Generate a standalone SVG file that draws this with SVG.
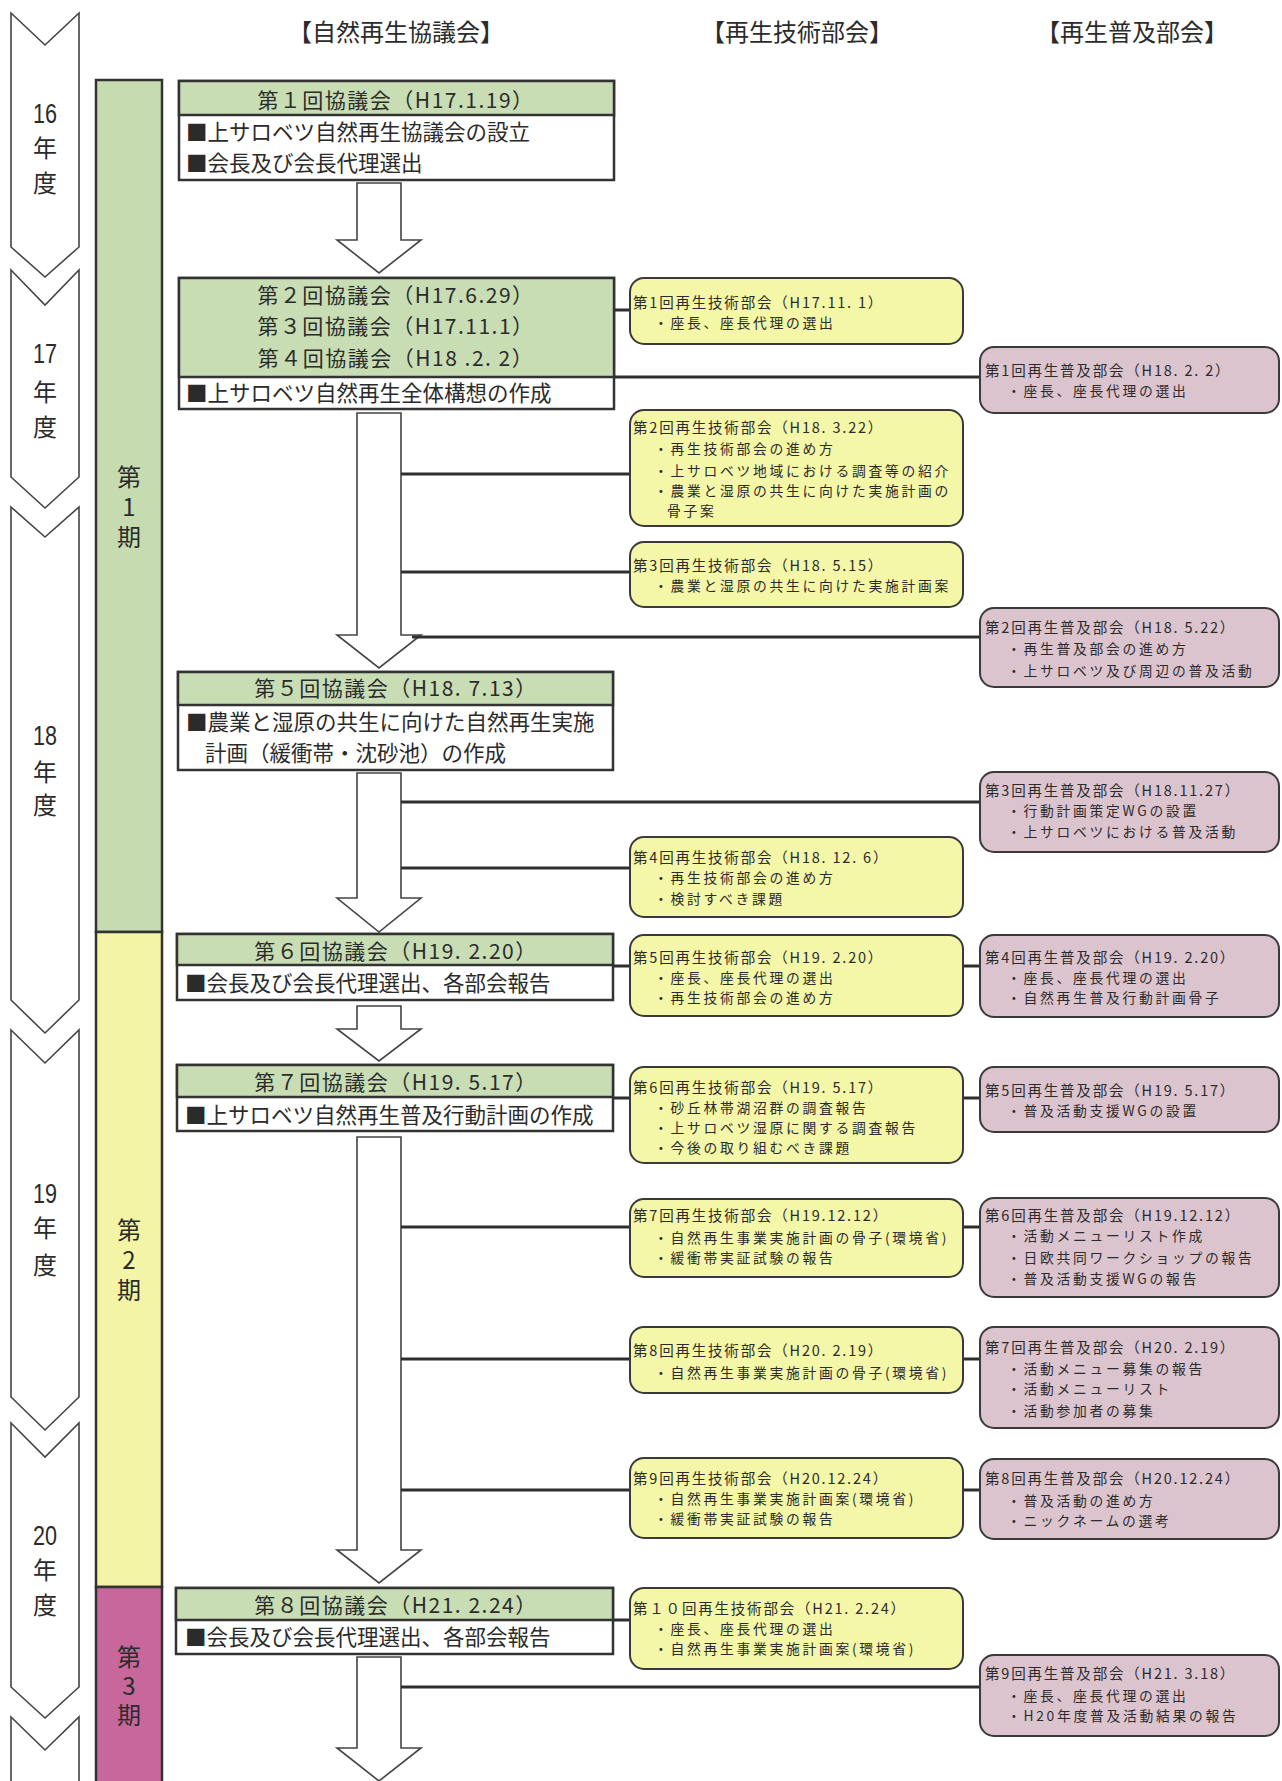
<svg xmlns="http://www.w3.org/2000/svg" width="1282" height="1781" viewBox="0 0 1282 1781">
<style>
.t{font-family:"Noto Sans CJK JP","Noto Sans CJK SC",sans-serif;fill:#2b2b2b}
.hd{font-size:24px;text-anchor:middle}
.ch{font-size:21px;text-anchor:middle;letter-spacing:1.5px}
.cb{font-size:21.5px}
.bt{font-size:14.5px;letter-spacing:1.8px}
.bi{font-size:13.8px;letter-spacing:2.7px}
.vt{font-size:24px;writing-mode:vertical-rl;text-orientation:upright}
.num{font-family:"Liberation Sans",Arial,sans-serif;font-size:27px;fill:#2b2b2b;text-anchor:middle}
.cbox{fill:#fff;stroke:#333;stroke-width:2.5}
.chead{fill:#c8ddb4;stroke:#333;stroke-width:2.5}
.tech{fill:#f4f6a8;stroke:#3a3a3a;stroke-width:2}
.spr{fill:#dcc4cf;stroke:#3a3a3a;stroke-width:2}
.conn{stroke:#2e2e2e;stroke-width:3;fill:none}
.arr{fill:#fff;stroke:#444;stroke-width:1.6}
.yarr{fill:#fff;stroke:#444;stroke-width:1.6}
</style>
<rect width="1282" height="1781" fill="#fff"/>

<g id="column-headers">
<text class="t hd" x="396" y="41">【自然再生協議会】</text>
<text class="t hd" x="797" y="41">【再生技術部会】</text>
<text class="t hd" x="1132" y="41">【再生普及部会】</text>
</g>

<g id="year-arrows">
<path class="yarr" d="M11,13 L45,45 L79,13 L79,247 L45,277 L11,247 Z"/>
<path class="yarr" d="M11,270 L45,305 L79,270 L79,477 L45,508 L11,477 Z"/>
<path class="yarr" d="M11,507 L45,537 L79,507 L79,1000 L45,1033 L11,1000 Z"/>
<path class="yarr" d="M11,1030 L45,1063 L79,1030 L79,1397 L45,1430 L11,1397 Z"/>
<path class="yarr" d="M11,1423 L45,1457 L79,1423 L79,1687 L45,1718 L11,1687 Z"/>
<path class="yarr" d="M11,1717 L45,1750 L79,1717 L79,1800 L11,1800 Z"/>
<text class="num" x="45" y="123" textLength="24" lengthAdjust="spacingAndGlyphs">16</text>
<text class="t vt" x="45" y="136" letter-spacing="11">年度</text>
<text class="num" x="45" y="363" textLength="24" lengthAdjust="spacingAndGlyphs">17</text>
<text class="t vt" x="45" y="380" letter-spacing="11">年度</text>
<text class="num" x="45" y="745" textLength="24" lengthAdjust="spacingAndGlyphs">18</text>
<text class="t vt" x="45" y="760" letter-spacing="9">年度</text>
<text class="num" x="45" y="1203" textLength="24" lengthAdjust="spacingAndGlyphs">19</text>
<text class="t vt" x="45" y="1216" letter-spacing="13">年度</text>
<text class="num" x="45" y="1545" textLength="24" lengthAdjust="spacingAndGlyphs">20</text>
<text class="t vt" x="45" y="1558" letter-spacing="11">年度</text>
</g>

<g id="periods">
<rect x="96" y="80" width="66" height="852" fill="#c6dcb0" stroke="#333" stroke-width="2.5"/>
<rect x="96" y="932" width="66" height="655" fill="#f3f4a6" stroke="#333" stroke-width="2.5"/>
<rect x="96" y="1587" width="66" height="210" fill="#c8679c" stroke="#333" stroke-width="2.5"/>
<text class="t vt" x="129" y="465" letter-spacing="6">第1期</text>
<text class="t vt" x="129" y="1218" letter-spacing="6">第2期</text>
<text class="t vt" x="129" y="1645" letter-spacing="5">第3期</text>
</g>

<g id="flow-arrows">
<path class="arr" d="M357,183 L401,183 L401,240 L421,240 L379,273 L337,240 L357,240 Z"/>
<path class="arr" d="M357,413 L401,413 L401,635 L421,635 L379,668 L337,635 L357,635 Z"/>
<path class="arr" d="M357,773 L401,773 L401,898 L421,898 L379,932 L337,898 L357,898 Z"/>
<path class="arr" d="M357,1006 L401,1006 L401,1029 L421,1029 L379,1061 L337,1029 L357,1029 Z"/>
<path class="arr" d="M357,1137 L401,1137 L401,1550 L421,1550 L379,1583 L337,1550 L357,1550 Z"/>
<path class="arr" d="M357,1657 L401,1657 L401,1748 L421,1748 L379,1781 L337,1748 L357,1748 Z"/>
</g>

<g id="connectors">
<line class="conn" x1="614" y1="310" x2="631" y2="310"/>
<line class="conn" x1="614" y1="377" x2="981" y2="377"/>
<line class="conn" x1="401" y1="474" x2="631" y2="474"/>
<line class="conn" x1="401" y1="572" x2="631" y2="572"/>
<line class="conn" x1="412" y1="637" x2="981" y2="637"/>
<line class="conn" x1="401" y1="802" x2="981" y2="802"/>
<line class="conn" x1="401" y1="868" x2="631" y2="868"/>
<line class="conn" x1="613" y1="966" x2="631" y2="966"/>
<line class="conn" x1="962" y1="966" x2="981" y2="966"/>
<line class="conn" x1="613" y1="1098" x2="631" y2="1098"/>
<line class="conn" x1="962" y1="1098" x2="981" y2="1098"/>
<line class="conn" x1="401" y1="1227" x2="631" y2="1227"/>
<line class="conn" x1="962" y1="1227" x2="981" y2="1227"/>
<line class="conn" x1="401" y1="1359" x2="631" y2="1359"/>
<line class="conn" x1="962" y1="1359" x2="981" y2="1359"/>
<line class="conn" x1="401" y1="1490" x2="631" y2="1490"/>
<line class="conn" x1="962" y1="1490" x2="981" y2="1490"/>
<line class="conn" x1="613" y1="1620" x2="631" y2="1620"/>
<line class="conn" x1="401" y1="1687" x2="981" y2="1687"/>
</g>

<g id="council-1">
<rect class="cbox" x="179" y="81" width="435" height="99"/>
<rect class="chead" x="179" y="81" width="435" height="34"/>
<text class="t ch" x="396" y="107.5">第１回協議会（H17.1.19）</text>
<text class="t cb"><tspan x="186" y="139.5">■上サロベツ自然再生協議会の設立</tspan><tspan x="186" y="171">■会長及び会長代理選出</tspan></text>
</g>
<g id="council-2">
<rect class="cbox" x="179" y="278" width="435" height="131"/>
<rect class="chead" x="179" y="278" width="435" height="99"/>
<text class="t ch"><tspan x="396" y="302.5">第２回協議会（H17.6.29）</tspan><tspan x="396" y="334">第３回協議会（H17.11.1）</tspan><tspan x="396" y="365.5">第４回協議会（H18 .2. 2）</tspan></text>
<text class="t cb" x="186" y="401">■上サロベツ自然再生全体構想の作成</text>
</g>
<g id="council-5">
<rect class="cbox" x="178" y="672" width="435" height="98"/>
<rect class="chead" x="178" y="672" width="435" height="33"/>
<text class="t ch" x="396" y="695.5">第５回協議会（H18. 7.13）</text>
<text class="t cb"><tspan x="186" y="729.5">■農業と湿原の共生に向けた自然再生実施</tspan><tspan x="205" y="761">計画（緩衝帯・沈砂池）の作成</tspan></text>
</g>
<g id="council-6">
<rect class="cbox" x="177" y="934" width="436" height="66"/>
<rect class="chead" x="177" y="934" width="436" height="31"/>
<text class="t ch" x="396" y="958.5">第６回協議会（H19. 2.20）</text>
<text class="t cb" x="185" y="991">■会長及び会長代理選出、各部会報告</text>
</g>
<g id="council-7">
<rect class="cbox" x="177" y="1065" width="436" height="66"/>
<rect class="chead" x="177" y="1065" width="436" height="32"/>
<text class="t ch" x="396" y="1089.5">第７回協議会（H19. 5.17）</text>
<text class="t cb" x="185" y="1123">■上サロベツ自然再生普及行動計画の作成</text>
</g>
<g id="council-8">
<rect class="cbox" x="176" y="1588" width="437" height="66"/>
<rect class="chead" x="176" y="1588" width="437" height="32"/>
<text class="t ch" x="396" y="1612.5">第８回協議会（H21. 2.24）</text>
<text class="t cb" x="185" y="1645">■会長及び会長代理選出、各部会報告</text>
</g>

<g id="tech-1">
<rect class="tech" x="630" y="278" width="333" height="66" rx="14"/>
<text class="t bi"><tspan class="bt" x="633" y="307.5">第1回再生技術部会（H17.11. 1）</tspan><tspan x="654" y="328">・座長、座長代理の選出</tspan></text>
</g>
<g id="tech-2">
<rect class="tech" x="630" y="410" width="333" height="116" rx="14"/>
<text class="t bi"><tspan class="bt" x="633" y="433">第2回再生技術部会（H18. 3.22）</tspan><tspan x="654" y="454">・再生技術部会の進め方</tspan><tspan x="654" y="476">・上サロベツ地域における調査等の紹介</tspan><tspan x="654" y="496">・農業と湿原の共生に向けた実施計画の</tspan><tspan x="667" y="516">骨子案</tspan></text>
</g>
<g id="tech-3">
<rect class="tech" x="630" y="542" width="333" height="65" rx="14"/>
<text class="t bi"><tspan class="bt" x="633" y="570.5">第3回再生技術部会（H18. 5.15）</tspan><tspan x="654" y="591">・農業と湿原の共生に向けた実施計画案</tspan></text>
</g>
<g id="tech-4">
<rect class="tech" x="630" y="837" width="333" height="80" rx="14"/>
<text class="t bi"><tspan class="bt" x="633" y="862.5">第4回再生技術部会（H18. 12. 6）</tspan><tspan x="654" y="883">・再生技術部会の進め方</tspan><tspan x="654" y="904">・検討すべき課題</tspan></text>
</g>
<g id="tech-5">
<rect class="tech" x="630" y="935" width="333" height="81" rx="14"/>
<text class="t bi"><tspan class="bt" x="633" y="962.5">第5回再生技術部会（H19. 2.20）</tspan><tspan x="654" y="983">・座長、座長代理の選出</tspan><tspan x="654" y="1003">・再生技術部会の進め方</tspan></text>
</g>
<g id="tech-6">
<rect class="tech" x="630" y="1067" width="333" height="96" rx="14"/>
<text class="t bi"><tspan class="bt" x="633" y="1092.5">第6回再生技術部会（H19. 5.17）</tspan><tspan x="654" y="1113">・砂丘林帯湖沼群の調査報告</tspan><tspan x="654" y="1133">・上サロベツ湿原に関する調査報告</tspan><tspan x="654" y="1153">・今後の取り組むべき課題</tspan></text>
</g>
<g id="tech-7">
<rect class="tech" x="630" y="1199" width="333" height="78" rx="14"/>
<text class="t bi"><tspan class="bt" x="633" y="1221">第7回再生技術部会（H19.12.12）</tspan><tspan x="654" y="1243">・自然再生事業実施計画の骨子(環境省)</tspan><tspan x="654" y="1263">・緩衝帯実証試験の報告</tspan></text>
</g>
<g id="tech-8">
<rect class="tech" x="630" y="1327" width="333" height="66" rx="14"/>
<text class="t bi"><tspan class="bt" x="633" y="1356">第8回再生技術部会（H20. 2.19）</tspan><tspan x="654" y="1378">・自然再生事業実施計画の骨子(環境省)</tspan></text>
</g>
<g id="tech-9">
<rect class="tech" x="630" y="1458" width="333" height="80" rx="14"/>
<text class="t bi"><tspan class="bt" x="633" y="1483.5">第9回再生技術部会（H20.12.24）</tspan><tspan x="654" y="1504">・自然再生事業実施計画案(環境省)</tspan><tspan x="654" y="1524">・緩衝帯実証試験の報告</tspan></text>
</g>
<g id="tech-10">
<rect class="tech" x="630" y="1588" width="333" height="81" rx="14"/>
<text class="t bi"><tspan class="bt" x="633" y="1613.5">第１０回再生技術部会（H21. 2.24）</tspan><tspan x="654" y="1634">・座長、座長代理の選出</tspan><tspan x="654" y="1654">・自然再生事業実施計画案(環境省)</tspan></text>
</g>

<g id="spread-1">
<rect class="spr" x="980" y="347" width="299" height="66" rx="14"/>
<text class="t bi"><tspan class="bt" x="985" y="375.5">第1回再生普及部会（H18. 2. 2）</tspan><tspan x="1007" y="396">・座長、座長代理の選出</tspan></text>
</g>
<g id="spread-2">
<rect class="spr" x="980" y="608" width="299" height="79" rx="14"/>
<text class="t bi"><tspan class="bt" x="985" y="633">第2回再生普及部会（H18. 5.22）</tspan><tspan x="1007" y="654">・再生普及部会の進め方</tspan><tspan x="1007" y="676">・上サロベツ及び周辺の普及活動</tspan></text>
</g>
<g id="spread-3">
<rect class="spr" x="980" y="772" width="299" height="80" rx="14"/>
<text class="t bi"><tspan class="bt" x="985" y="795.5">第3回再生普及部会（H18.11.27）</tspan><tspan x="1007" y="816">・行動計画策定WGの設置</tspan><tspan x="1007" y="837">・上サロベツにおける普及活動</tspan></text>
</g>
<g id="spread-4">
<rect class="spr" x="980" y="935" width="299" height="82" rx="14"/>
<text class="t bi"><tspan class="bt" x="985" y="962.5">第4回再生普及部会（H19. 2.20）</tspan><tspan x="1007" y="983">・座長、座長代理の選出</tspan><tspan x="1007" y="1003">・自然再生普及行動計画骨子</tspan></text>
</g>
<g id="spread-5">
<rect class="spr" x="980" y="1067" width="299" height="65" rx="14"/>
<text class="t bi"><tspan class="bt" x="985" y="1095.5">第5回再生普及部会（H19. 5.17）</tspan><tspan x="1007" y="1116">・普及活動支援WGの設置</tspan></text>
</g>
<g id="spread-6">
<rect class="spr" x="980" y="1198" width="299" height="99" rx="14"/>
<text class="t bi"><tspan class="bt" x="985" y="1220.5">第6回再生普及部会（H19.12.12）</tspan><tspan x="1007" y="1241">・活動メニューリスト作成</tspan><tspan x="1007" y="1263">・日欧共同ワークショップの報告</tspan><tspan x="1007" y="1284">・普及活動支援WGの報告</tspan></text>
</g>
<g id="spread-7">
<rect class="spr" x="980" y="1327" width="299" height="101" rx="14"/>
<text class="t bi"><tspan class="bt" x="985" y="1353">第7回再生普及部会（H20. 2.19）</tspan><tspan x="1007" y="1374">・活動メニュー募集の報告</tspan><tspan x="1007" y="1394">・活動メニューリスト</tspan><tspan x="1007" y="1416">・活動参加者の募集</tspan></text>
</g>
<g id="spread-8">
<rect class="spr" x="980" y="1459" width="299" height="80" rx="14"/>
<text class="t bi"><tspan class="bt" x="985" y="1484">第8回再生普及部会（H20.12.24）</tspan><tspan x="1007" y="1506">・普及活動の進め方</tspan><tspan x="1007" y="1526">・ニックネームの選考</tspan></text>
</g>
<g id="spread-9">
<rect class="spr" x="980" y="1655" width="299" height="81" rx="14"/>
<text class="t bi"><tspan class="bt" x="985" y="1679">第9回再生普及部会（H21. 3.18）</tspan><tspan x="1007" y="1701">・座長、座長代理の選出</tspan><tspan x="1007" y="1721">・H20年度普及活動結果の報告</tspan></text>
</g>
</svg>
